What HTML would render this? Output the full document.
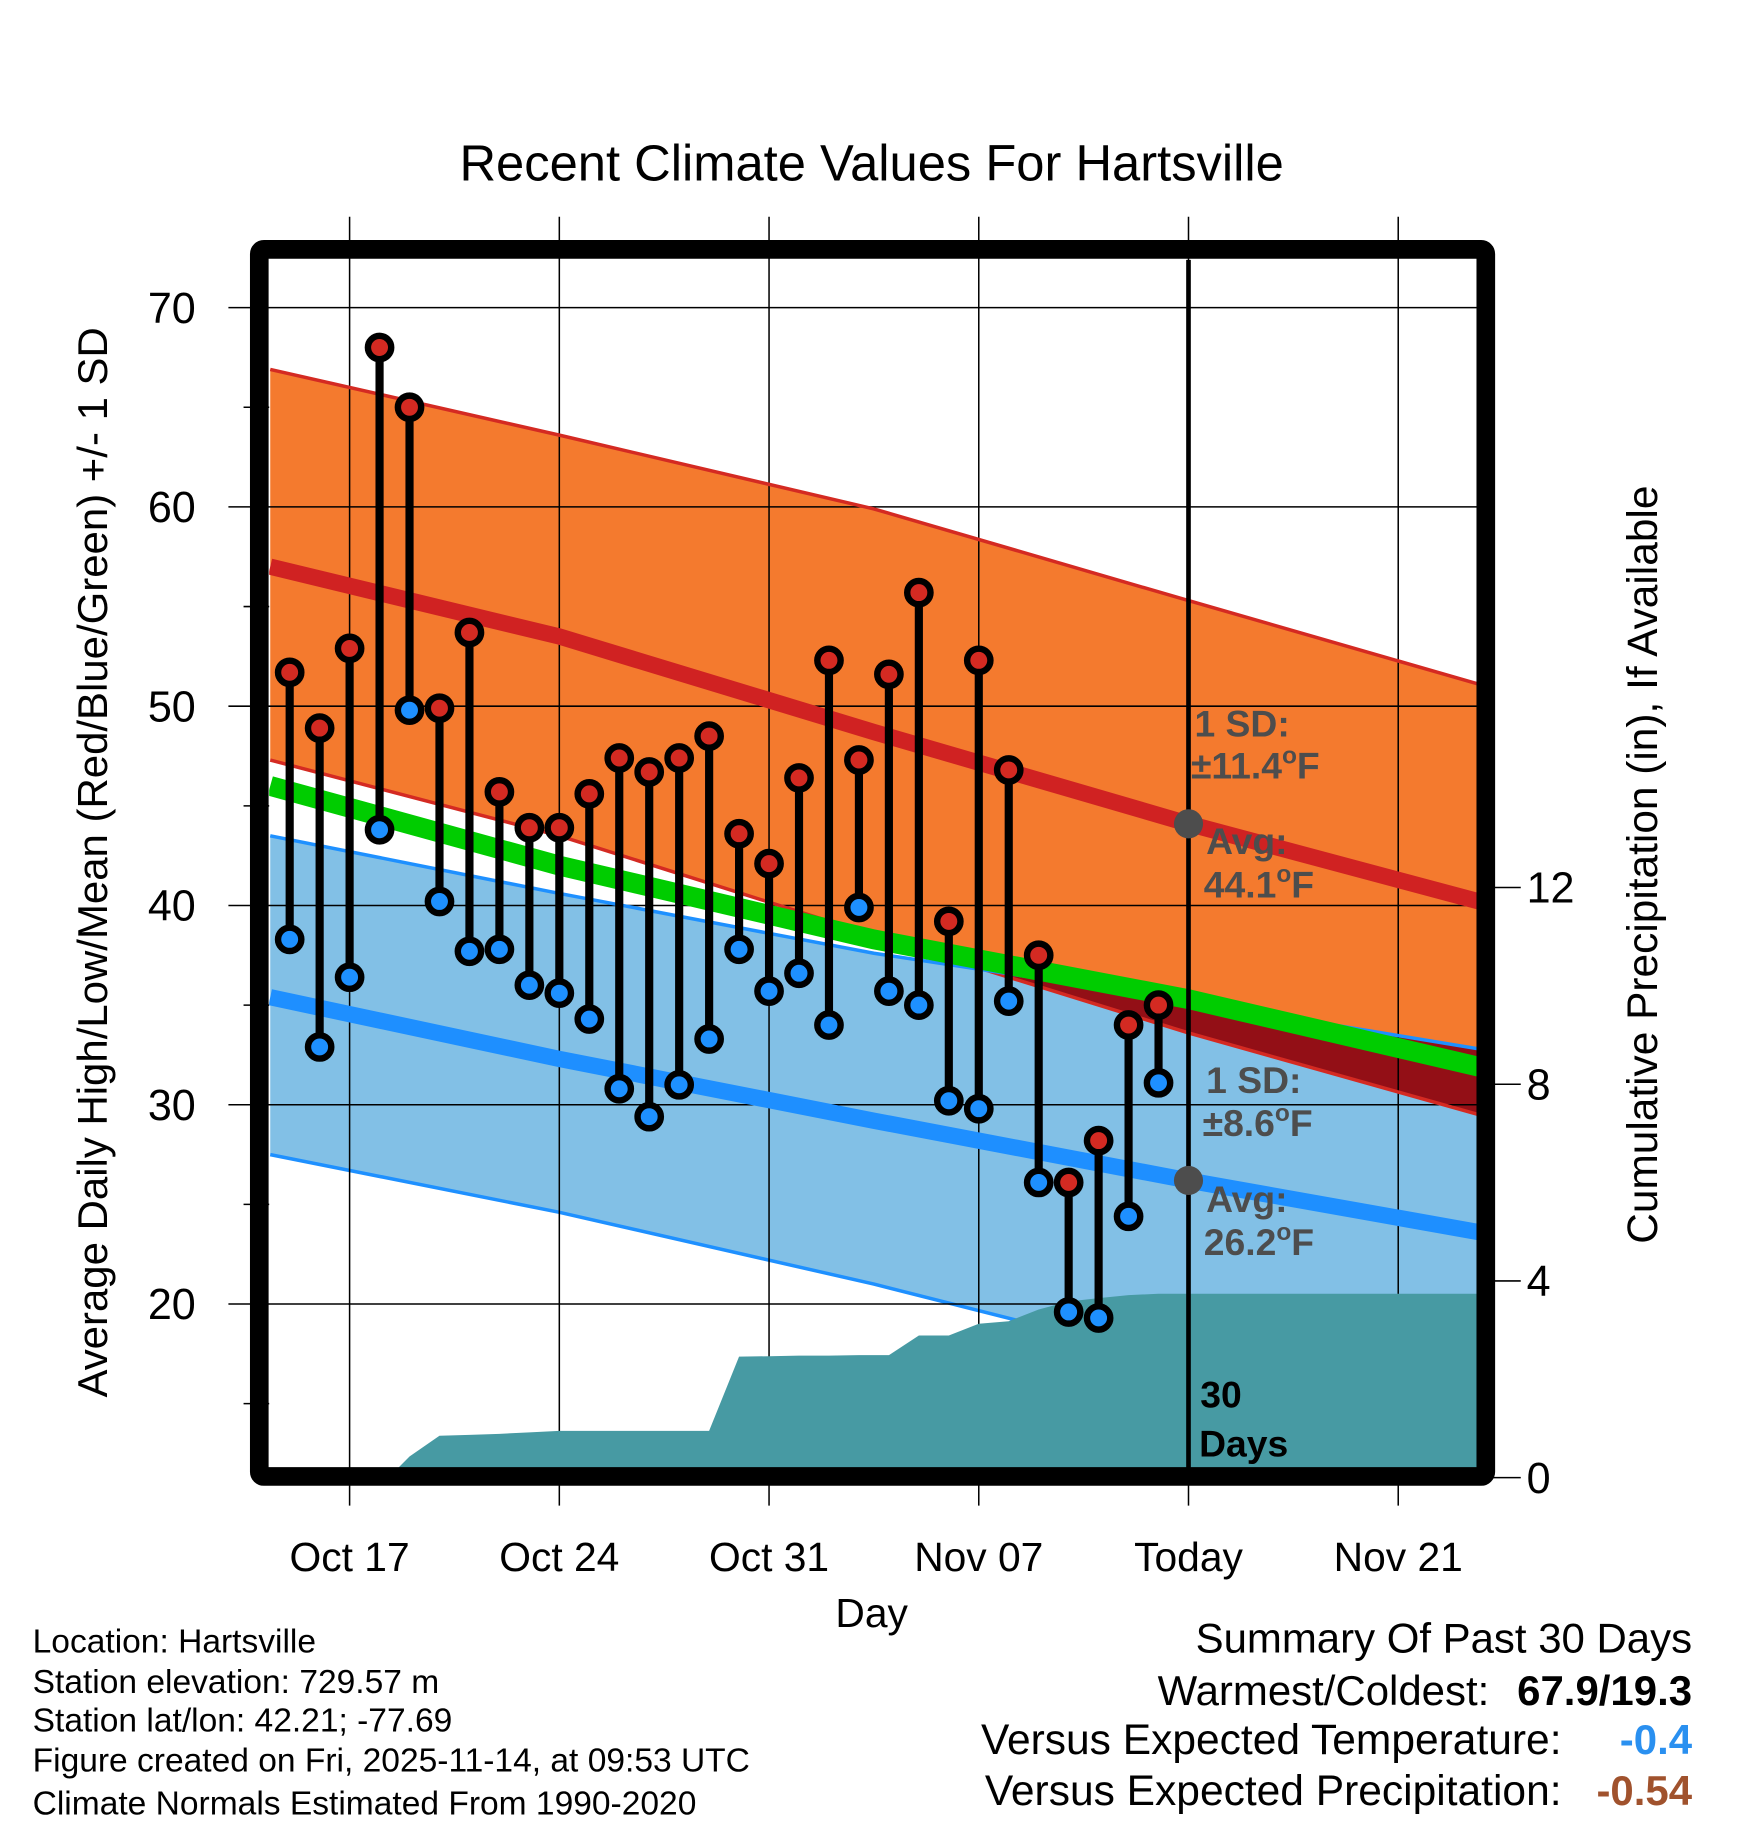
<!DOCTYPE html>
<html><head><meta charset="utf-8"><style>
html,body{margin:0;padding:0;background:#fff}
svg{display:block;font-family:"Liberation Sans",Arial,sans-serif}
</style></head><body>
<svg id="c" width="1748" height="1828" viewBox="0 0 1500 1568.65" preserveAspectRatio="none">
<g id="bands"></g><g id="grid"></g><g id="precip"></g><g id="lines"></g><g id="marks"></g><g id="ann"></g><g id="axes"></g>
</svg>
<script>
// ---- data ----
const days = [-2,-1,0,1,2,3,4,5,6,7,8,9,10,11,12,13,14,15,16,17,18,19,20,21,22,23,24,25,26,27];
const highs = [51.7,48.9,52.9,68.0,65.0,49.9,53.7,45.7,43.9,43.9,45.6,47.4,46.7,47.4,48.5,43.6,42.1,46.4,52.3,47.3,51.6,55.7,39.2,52.3,46.8,37.5,26.1,28.2,34.0,35.0];
const lows = [38.3,32.9,36.4,43.8,49.8,40.2,37.7,37.8,36.0,35.6,34.3,30.8,29.4,31.0,33.3,37.8,35.7,36.6,34.0,39.9,35.7,35.0,30.2,29.8,35.2,26.1,19.6,19.3,24.4,31.1];
const precip = [0,0,0,0,0.43,0.85,0.87,0.89,0.92,0.95,0.95,0.95,0.95,0.95,0.95,2.46,2.47,2.48,2.48,2.49,2.49,2.89,2.89,3.13,3.18,3.42,3.58,3.65,3.71,3.74];
const precipDays = [-1,0,0.5,1.3,2,3,4,5,6,7,8,9,10,11,12,13,14,15,16,17,18,19,20,21,22,23,24,25,26,27];
const normDays = [-2.65,7,17.5,28,37.7];
const hiUpper = [66.9,63.6,59.9,55.3,51.1];
const hiMean = [57.0,53.5,48.7,44.1,40.2];
const hiLower = [47.3,43.5,38.5,33.6,29.5];
const meanT = [46.0,42.0,38.3,35.3,31.9];
const loUpper = [43.5,40.6,37.6,35.2,32.8];
const loMean = [35.4,32.3,29.2,26.2,23.6];
const loLower = [27.5,24.6,21.0,17.0,13.0];
const xTickDays = [0,7,14,21,28,35];
const xTickLabels = ["Oct 17","Oct 24","Oct 31","Nov 07","Today","Nov 21"];
const yTicks = [20,30,40,50,60,70];
const yMinor = [15,25,35,45,55,65];
const pTicks = [0,4,8,12];

// ---- scales ----
const L=231,R=1268,T=223,B=1260;
const X=d=>300+d*25.71;
const Y=v=>264+(70-v)*17.1;
const P=p=>1268-p*42.2;
const NS='http://www.w3.org/2000/svg';
function el(tag,attrs,parent){const e=document.createElementNS(NS,tag);for(const k in attrs)e.setAttribute(k,attrs[k]);document.getElementById(parent).appendChild(e);return e;}
const line=(arr)=>normDays.map((d,i)=>X(d).toFixed(1)+','+Y(arr[i]).toFixed(1));
function band(a,b){return line(a).concat(line(b).reverse()).join(' ');}

const defs=document.createElementNS(NS,'defs');
defs.innerHTML='<clipPath id="pc"><rect x="'+L+'" y="'+T+'" width="'+(R-L)+'" height="'+(B-T)+'"/></clipPath>';
document.getElementById('c').prepend(defs);
['bands','precip','lines','marks'].forEach(g=>document.getElementById(g).setAttribute('clip-path','url(#pc)'));

let e;
e=el('polygon',{points:band(hiUpper,hiLower),fill:'#f47a2e'},'bands');


e=el('polygon',{points:band(loUpper,loLower),fill:'#82c0e6'},'bands');


{
  const pts=[];
  const n=normDays.length;
  for(let i=0;i<n;i++){const u=Math.min(hiUpper[i],loUpper[i]);const l=Math.max(hiLower[i],loLower[i]);pts.push([normDays[i],Math.max(u,l)]);}
  for(let i=n-1;i>=0;i--){pts.push([normDays[i],Math.max(hiLower[i],loLower[i])]);}
  e=el('polygon',{points:pts.map(p=>X(p[0])+','+Y(p[1])).join(' '),fill:'#930f16'},'bands');
  
  
}
e=el('polyline',{points:line(loLower).join(' '),fill:'none',stroke:'#1e90ff','stroke-width':3},'bands');



// grid
yTicks.forEach(v=>{
  e=el('line',{x1:196,x2:R,y1:Y(v),y2:Y(v),stroke:'#000','stroke-width':1.3},'grid');
  
  
});
yMinor.forEach(v=>{
  e=el('line',{x1:209,x2:231,y1:Y(v),y2:Y(v),stroke:'#000','stroke-width':1.3},'grid');
  
  
});
xTickDays.forEach(d=>{
  e=el('line',{x1:X(d),x2:X(d),y1:186,y2:1292,stroke:'#000','stroke-width':1.3},'grid');
  
  
});
pTicks.forEach(p=>{
  e=el('line',{x1:R,x2:1305,y1:P(p),y2:P(p),stroke:'#000','stroke-width':1.3},'grid');
  
  
});

// precip area
{
  let pts=[X(precipDays[0])+','+P(0)];
  precipDays.forEach((d,i)=>pts.push(X(d).toFixed(1)+','+P(precip[i]).toFixed(1)));
  pts.push(R+10+','+P(precip[precip.length-1]));
  pts.push(R+10+','+(B+10));
  pts.push(X(precipDays[0])+','+(B+10));
  e=el('polygon',{points:pts.join(' '),fill:'#479aa3'},'precip');
  
  
}

function pl(arr,color,w,name){
  e=el('polyline',{points:line(arr).join(' '),fill:'none',stroke:color,'stroke-width':w},'lines');
  
  
}
pl(hiUpper,'#d42a22',3,'high-upper-sd-line');
pl(hiLower,'#d42a22',3,'high-lower-sd-line');
pl(loUpper,'#1e90ff',3,'low-upper-sd-line');
pl(hiMean,'#d02222',14,'normal-high-line');
pl(loMean,'#1e8fff',14,'normal-low-line');
pl(meanT,'#00cc00',17,'normal-mean-line');

e=el('line',{x1:X(28),x2:X(28),y1:T,y2:B,stroke:'#000','stroke-width':4},'ann');



days.forEach((d,i)=>{
  const x=X(d);
  e=el('line',{x1:x,x2:x,y1:Y(highs[i]),y2:Y(lows[i]),stroke:'#000','stroke-width':7},'marks');
  
  
  [[highs[i],'#d42a22','high-point'],[lows[i],'#1e90ff','low-point']].forEach(([v,c,n])=>{
    e=el('circle',{cx:x,cy:Y(v),r:10,fill:c,stroke:'#000','stroke-width':5.5},'marks');
    
    
  });
});

[44.1,26.2].forEach(v=>{
  e=el('circle',{cx:X(28),cy:Y(v),r:12.5,fill:'#4d4d4d'},'ann');
  
  
});
function txt(g,x,y,s,attrs,name,inter){
  const t=el('text',Object.assign({x:x,y:y},attrs),g);t.innerHTML=s;
  
  
  return t;
}
const ga={fill:'#4d4d4d','font-weight':'bold','font-size':32};
const deg='<tspan dy="-13" font-size="21">o</tspan><tspan dy="13">F</tspan>';
txt('ann',1025,632,'1 SD:',ga,'high-sd-label');
txt('ann',1022,668,'±11.4'+deg,ga,'high-sd-value');
txt('ann',1035,733,'Avg:',ga,'high-avg-label');
txt('ann',1033,770,'44.1'+deg,ga,'high-avg-value');
txt('ann',1035,938,'1 SD:',ga,'low-sd-label');
txt('ann',1032,975,'±8.6'+deg,ga,'low-sd-value');
txt('ann',1035,1040,'Avg:',ga,'low-avg-label');
txt('ann',1033,1077,'26.2'+deg,ga,'low-avg-value');
const bk={fill:'#000','font-weight':'bold','font-size':32};
txt('ann',1030,1208,'30',bk,'days-count');
txt('ann',1029,1250,'Days',bk,'days-label');

e=el('rect',{x:222.5,y:214,width:1052.5,height:1053,fill:'none',stroke:'#000','stroke-width':16,rx:4},'axes');



yTicks.forEach(v=>txt('axes',168,Y(v)+13,v,{'font-size':37,'text-anchor':'end'},'y-tick-label'));
pTicks.forEach(p=>txt('axes',1310,P(p)+13,p,{'font-size':37},'precip-tick-label'));
xTickDays.forEach((d,i)=>txt('axes',X(d),1348,xTickLabels[i],{'font-size':35,'text-anchor':'middle'},'x-tick-label'));
txt('axes',748,1396,'Day',{'font-size':35,'text-anchor':'middle'},'x-axis-title');
txt('axes',748,155,'Recent Climate Values For Hartsville',{'font-size':43.5,'text-anchor':'middle'},'chart-title');
txt('axes',0,0,'Average Daily High/Low/Mean (Red/Blue/Green) +/- 1 SD',{'font-size':36,'text-anchor':'middle',transform:'translate(92,740) rotate(-90)'},'y-axis-title');
txt('axes',0,0,'Cumulative Precipitation (in), If Available',{'font-size':36.4,'text-anchor':'middle',transform:'translate(1422,742) rotate(-90)'},'precip-axis-title');

const fl=['Location: Hartsville','Station elevation: 729.57 m','Station lat/lon: 42.21; -77.69','Figure created on Fri, 2025-11-14, at 09:53 UTC','Climate Normals Estimated From 1990-2020'];
const fy=[1418,1453,1486,1520,1557];
fl.forEach((s,i)=>txt('axes',28,fy[i],s,{'font-size':28.8},'footer-info-line'));
txt('axes',1452,1418,'Summary Of Past 30 Days',{'font-size':36,'text-anchor':'end'},'summary-title');
txt('axes',1278,1463,'Warmest/Coldest:',{'font-size':36,'text-anchor':'end'},'warmest-coldest-label');
txt('axes',1452,1463,'67.9/19.3',{'font-size':36,'text-anchor':'end','font-weight':'bold'},'warmest-coldest-value');
txt('axes',1340,1505,'Versus Expected Temperature:',{'font-size':36.5,'text-anchor':'end'},'temp-departure-label');
txt('axes',1452,1505,'-0.4',{'font-size':36,'text-anchor':'end','font-weight':'bold',fill:'#2a90f0'},'temp-departure-value');
txt('axes',1340,1549,'Versus Expected Precipitation:',{'font-size':36.5,'text-anchor':'end'},'precip-departure-label');
txt('axes',1452,1549,'-0.54',{'font-size':36,'text-anchor':'end','font-weight':'bold',fill:'#a0522d'},'precip-departure-value');
</script>
</body></html>
